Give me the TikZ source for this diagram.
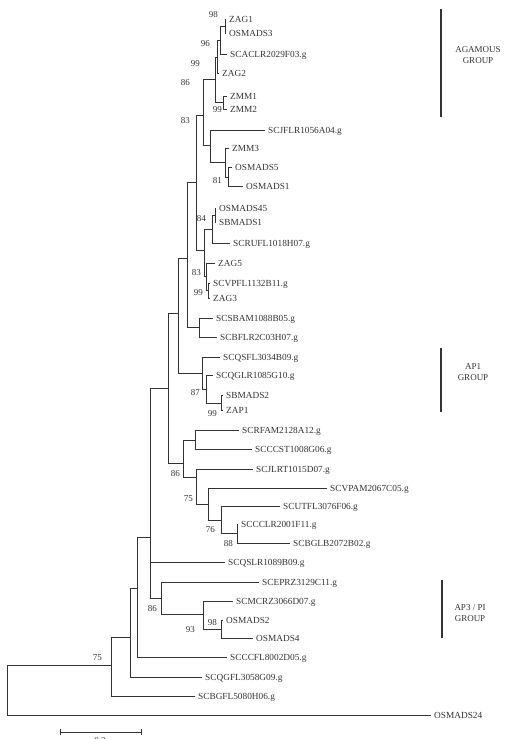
\documentclass[tikz,border=0pt]{standalone}
\usepackage{fontspec}
\setmainfont{Liberation Serif}
\definecolor{ink}{HTML}{333333}
\begin{document}
\begin{tikzpicture}[x=1pt,y=-1pt,
  branch/.style={draw=ink, line width=1pt},
  leaf/.style={anchor=west, inner xsep=3pt, inner ysep=0pt, text height=6pt, text depth=0pt,
    font=\fontsize{9.3}{10}\selectfont, text=ink},
  boot/.style={anchor=east, inner sep=0pt, text height=6pt, text depth=0pt,
    font=\fontsize{9}{10}\selectfont, text=ink},
  groupbar/.style={draw=ink, line width=2.6pt},
  grouplabel/.style={align=center, font=\fontsize{9}{10.5}\selectfont, text=ink, inner sep=0pt}]
\useasboundingbox (0,0) rectangle (511,739);

% ---- leaves (tip position, label to the right) ----
\node[leaf] (zag1)     at (226,19)  {ZAG1};
\node[leaf] (osmads3)  at (226,33)  {OSMADS3};
\node[leaf] (scaclr)   at (227,54)  {SCACLR2029F03.g};
\node[leaf] (zag2)     at (219,73)  {ZAG2};
\node[leaf] (zmm1)     at (227,96)  {ZMM1};
\node[leaf] (zmm2)     at (227,109) {ZMM2};
\node[leaf] (scjflr)   at (265,130) {SCJFLR1056A04.g};
\node[leaf] (zmm3)     at (229,148) {ZMM3};
\node[leaf] (osmads5)  at (232,167) {OSMADS5};
\node[leaf] (osmads1)  at (243,186) {OSMADS1};
\node[leaf] (osmads45) at (216,208) {OSMADS45};
\node[leaf] (sbmads1)  at (216,222) {SBMADS1};
\node[leaf] (scrufl)   at (230,243) {SCRUFL1018H07.g};
\node[leaf] (zag5)     at (215,263) {ZAG5};
\node[leaf] (scvpfl)   at (210,283) {SCVPFL1132B11.g};
\node[leaf] (zag3)     at (210,298) {ZAG3};
\node[leaf] (scsbam)   at (213,318) {SCSBAM1088B05.g};
\node[leaf] (scbflr)   at (217,337) {SCBFLR2C03H07.g};
\node[leaf] (scqsfl)   at (220,357) {SCQSFL3034B09.g};
\node[leaf] (scqglr)   at (213,375) {SCQGLR1085G10.g};
\node[leaf] (sbmads2)  at (223,395) {SBMADS2};
\node[leaf] (zap1)     at (223,410) {ZAP1};
\node[leaf] (scrfam)   at (239,430) {SCRFAM2128A12.g};
\node[leaf] (scccst)   at (252,449) {SCCCST1008G06.g};
\node[leaf] (scjlrt)   at (253,469) {SCJLRT1015D07.g};
\node[leaf] (scvpam)   at (327,488) {SCVPAM2067C05.g};
\node[leaf] (scutfl)   at (280,506) {SCUTFL3076F06.g};
\node[leaf] (scccl)    at (238,524) {SCCCLR2001F11.g};
\node[leaf] (scbglb)   at (290,543) {SCBGLB2072B02.g};
\node[leaf] (scqslr)   at (225,562) {SCQSLR1089B09.g};
\node[leaf] (sceprz)   at (259,582) {SCEPRZ3129C11.g};
\node[leaf] (scmcrz)   at (233,601) {SCMCRZ3066D07.g};
\node[leaf] (osmads2)  at (223,620) {OSMADS2};
\node[leaf] (osmads4)  at (253,638) {OSMADS4};
\node[leaf] (scccfl)   at (227,657) {SCCCFL8002D05.g};
\node[leaf] (scqgfl)   at (202,677) {SCQGFL3058G09.g};
\node[leaf] (scbgfl)   at (195,696) {SCBGFL5080H06.g};
\node[leaf] (osmads24) at (431,715) {OSMADS24};

% ---- internal nodes ----
\coordinate (nA)  at (225,26);
\coordinate (nB)  at (220.5,40);
\coordinate (nC)  at (217,57);
\coordinate (nZ1) at (223,102);
\coordinate (nD)  at (215,79);
\coordinate (nI)  at (228,177);
\coordinate (nH)  at (225,162);
\coordinate (nG)  at (210,145);
\coordinate (nF)  at (203,115);
\coordinate (nK)  at (215,215);
\coordinate (nL)  at (212,229);
\coordinate (nM)  at (208,290);
\coordinate (nN)  at (206,276);
\coordinate (nJ)  at (204,250);
\coordinate (nE)  at (196,182);
\coordinate (nP)  at (199,327);
\coordinate (nO)  at (187,258);
\coordinate (nT)  at (221,403);
\coordinate (nS)  at (206,389);
\coordinate (nR)  at (202,373);
\coordinate (nQ)  at (178,313);
\coordinate (nX)  at (195,440);
\coordinate (nAB) at (237,533);
\coordinate (nAA) at (221,520);
\coordinate (nZn) at (208,504);
\coordinate (nY)  at (196,477);
\coordinate (nV)  at (183,463);
\coordinate (nU)  at (168,388);
\coordinate (nAE) at (221,629);
\coordinate (nAD) at (203,614);
\coordinate (nAC) at (161,598);
\coordinate (nW)  at (150,537);
\coordinate (nAF) at (137,588);
\coordinate (nAG) at (130,637);
\coordinate (nAH) at (111,665);
\coordinate (root) at (7,690);

% ---- branches ----
\draw[branch] (nA) |- (zag1.west);   \draw[branch] (nA) |- (osmads3.west);
\draw[branch] (nB) |- (nA);          \draw[branch] (nB) |- (scaclr.west);
\draw[branch] (nC) |- (nB);          \draw[branch] (nC) |- (zag2.west);
\draw[branch] (nZ1) |- (zmm1.west);  \draw[branch] (nZ1) |- (zmm2.west);
\draw[branch] (nD) |- (nC);          \draw[branch] (nD) |- (nZ1);
\draw[branch] (nI) |- (osmads5.west);\draw[branch] (nI) |- (osmads1.west);
\draw[branch] (nH) |- (zmm3.west);   \draw[branch] (nH) |- (nI);
\draw[branch] (nG) |- (scjflr.west); \draw[branch] (nG) |- (nH);
\draw[branch] (nF) |- (nD);          \draw[branch] (nF) |- (nG);
\draw[branch] (nK) |- (osmads45.west); \draw[branch] (nK) |- (sbmads1.west);
\draw[branch] (nL) |- (nK);          \draw[branch] (nL) |- (scrufl.west);
\draw[branch] (nM) |- (scvpfl.west); \draw[branch] (nM) |- (zag3.west);
\draw[branch] (nN) |- (zag5.west);   \draw[branch] (nN) |- (nM);
\draw[branch] (nJ) |- (nL);          \draw[branch] (nJ) |- (nN);
\draw[branch] (nE) |- (nF);          \draw[branch] (nE) |- (nJ);
\draw[branch] (nP) |- (scsbam.west); \draw[branch] (nP) |- (scbflr.west);
\draw[branch] (nO) |- (nE);          \draw[branch] (nO) |- (nP);
\draw[branch] (nT) |- (sbmads2.west);\draw[branch] (nT) |- (zap1.west);
\draw[branch] (nS) |- (scqglr.west); \draw[branch] (nS) |- (nT);
\draw[branch] (nR) |- (scqsfl.west); \draw[branch] (nR) |- (nS);
\draw[branch] (nQ) |- (nO);          \draw[branch] (nQ) |- (nR);
\draw[branch] (nX) |- (scrfam.west); \draw[branch] (nX) |- (scccst.west);
\draw[branch] (nAB) |- (scccl.west); \draw[branch] (nAB) |- (scbglb.west);
\draw[branch] (nAA) |- (scutfl.west);\draw[branch] (nAA) |- (nAB);
\draw[branch] (nZn) |- (scvpam.west);\draw[branch] (nZn) |- (nAA);
\draw[branch] (nY) |- (scjlrt.west); \draw[branch] (nY) |- (nZn);
\draw[branch] (nV) |- (nX);          \draw[branch] (nV) |- (nY);
\draw[branch] (nU) |- (nQ);          \draw[branch] (nU) |- (nV);
\draw[branch] (nAE) |- (osmads2.west); \draw[branch] (nAE) |- (osmads4.west);
\draw[branch] (nAD) |- (scmcrz.west);\draw[branch] (nAD) |- (nAE);
\draw[branch] (nAC) |- (sceprz.west);\draw[branch] (nAC) |- (nAD);
\draw[branch] (nW) |- (nU);          \draw[branch] (nW) |- (scqslr.west);
\draw[branch] (nW) |- (nAC);
\draw[branch] (nAF) |- (nW);         \draw[branch] (nAF) |- (scccfl.west);
\draw[branch] (nAG) |- (nAF);        \draw[branch] (nAG) |- (scqgfl.west);
\draw[branch] (nAH) |- (nAG);        \draw[branch] (nAH) |- (scbgfl.west);
\draw[branch] (root) |- (nAH);       \draw[branch] (root) |- (osmads24.west);

% ---- bootstrap values ----
\node[boot] (bA)  at (218,14)  {98};
\node[boot] (bB)  at (210,43)  {96};
\node[boot] (bC)  at (200,63)  {99};
\node[boot] (bD)  at (190,82)  {86};
\node[boot] (bZ1) at (222,109) {99};
\node[boot] (bF)  at (190,120) {83};
\node[boot] (bI)  at (222,180) {81};
\node[boot] (bK)  at (206,218) {84};
\node[boot] (bN)  at (201,272) {83};
\node[boot] (bM)  at (203,292) {99};
\node[boot] (bS)  at (200,392) {87};
\node[boot] (bT)  at (217,413) {99};
\node[boot] (bV)  at (180,473) {86};
\node[boot] (bY)  at (193,498) {75};
\node[boot] (bAA) at (215,529) {76};
\node[boot] (bAB) at (233,543) {88};
\node[boot] (bAC) at (157,608) {86};
\node[boot] (bAE) at (217,622) {98};
\node[boot] (bAD) at (195,629) {93};
\node[boot] (bAH) at (102,657) {75};

% ---- group bars ----
\coordinate (gagT) at (441,9);   \coordinate (gagB) at (441,117);
\coordinate (gapT) at (441,348); \coordinate (gapB) at (441,412);
\coordinate (gpiT) at (442,580); \coordinate (gpiB) at (442,638);
\draw[groupbar] (gagT) -- (gagB);
\draw[groupbar] (gapT) -- (gapB);
\draw[groupbar] (gpiT) -- (gpiB);
\node[grouplabel] (lag) at (478,55)  {AGAMOUS\\GROUP};
\node[grouplabel] (lap) at (473,372) {AP1\\GROUP};
\node[grouplabel] (lpi) at (470,613) {AP3 / PI\\GROUP};

% ---- scale bar ----
\coordinate (sbL) at (60,732);
\coordinate (sbR) at (141,732);
\draw[branch] (sbL) -- (sbR);
\draw[branch] ([yshift=-3pt]sbL) -- ([yshift=3pt]sbL);
\draw[branch] ([yshift=-3pt]sbR) -- ([yshift=3pt]sbR);
\node[boot, anchor=north] (sblab) at (100,737) {0.2};
\end{tikzpicture}
\end{document}
